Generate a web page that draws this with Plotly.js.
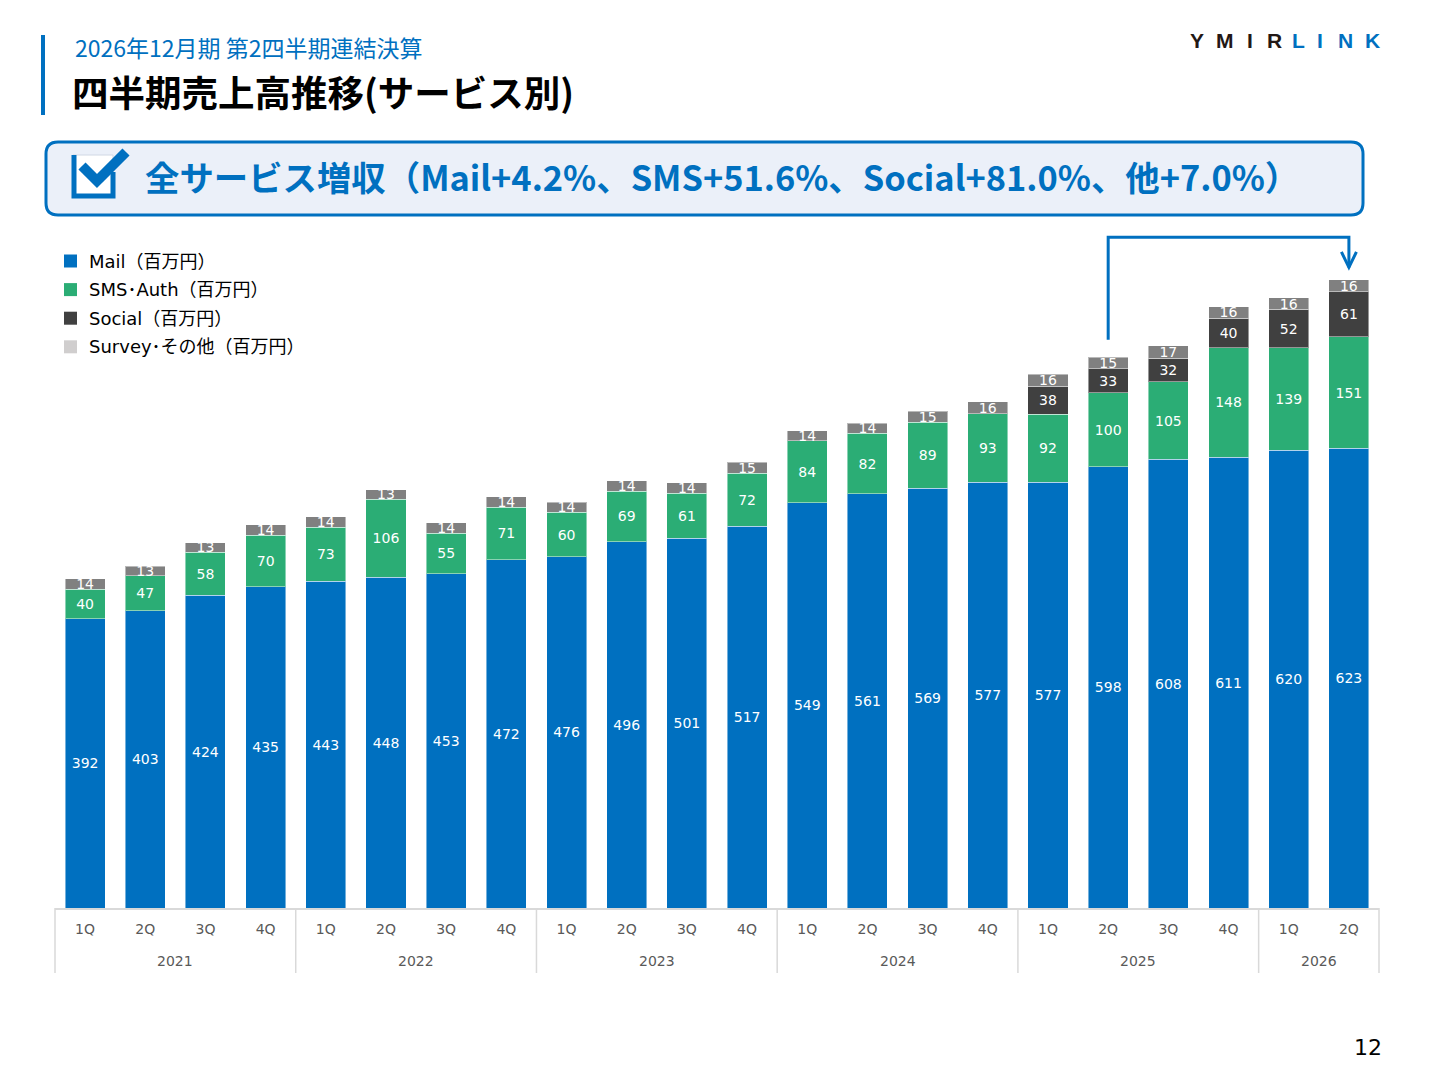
<!DOCTYPE html>
<html>
<head>
<meta charset="utf-8">
<script src="https://cdn.plot.ly/plotly-3.0.1.min.js"></script>
<style>
  html, body { margin: 0; padding: 0; background: #ffffff; }
  #chart { width: 1440px; height: 1080px; }
</style>
</head>
<body>
<div id="chart"></div>
<script>
// ---- data ----
const years    = ["2021","2021","2021","2021","2022","2022","2022","2022","2023","2023","2023","2023",
                  "2024","2024","2024","2024","2025","2025","2025","2025","2026","2026"];
const quarters = ["1Q","2Q","3Q","4Q","1Q","2Q","3Q","4Q","1Q","2Q","3Q","4Q",
                  "1Q","2Q","3Q","4Q","1Q","2Q","3Q","4Q","1Q","2Q"];
const mail   = [392,403,424,435,443,448,453,472,476,496,501,517,549,561,569,577,577,598,608,611,620,623];
const sms    = [40,47,58,70,73,106,55,71,60,69,61,72,84,82,89,93,92,100,105,148,139,151];
const social = [null,null,null,null,null,null,null,null,null,null,null,null,
                null,null,null,null,38,33,32,40,52,61];
const survey = [14,13,13,14,14,13,14,14,14,14,14,15,14,14,15,16,16,15,17,16,16,16];

const seriesNames = ["Mail（百万円）","SMS･Auth（百万円）","Social（百万円）","Survey･その他（百万円）"];
const barColors    = ["#0070C0","#2BAD75","#404040","#808080"];
const legendColors = ["#0070C0","#2BAD75","#404040","#D0CECE"];

const subtitleText = "2026年12月期 第2四半期連結決算";
const titleText    = "四半期売上高推移(サービス別)";
const bannerText   = "全サービス増収（Mail+4.2%、SMS+51.6%、Social+81.0%、他+7.0%）";
const logoLetters  = ["Y","M","I","R","L","I","N","K"];
const logoColors   = ["#231815","#231815","#231815","#231815","#0070C0","#0070C0","#0070C0","#0070C0"];
const pageNumber   = "12";

// ---- geometry helpers (plot area: x 55..1379, y 230..908 in page pixels) ----
const L = 55, R = 1379, T = 230, B = 908;
const W = R - L, H = B - T;
const px = x => (x - L) / W;
const py = y => (B - y) / H;
const P = (x, y) => px(x).toFixed(5) + "," + py(y).toFixed(5);

const latin = "DejaVu Sans, Noto Sans CJK JP, sans-serif";
const jp = "Noto Sans CJK JP, DejaVu Sans, sans-serif";

const n = quarters.length;
const keys = years.map((y, i) => y + "-" + quarters[i]);
const seriesVals = [mail, sms, social, survey];

const traces = seriesVals.map((vals, k) => ({
  type: "bar",
  name: seriesNames[k],
  x: keys,
  y: vals,
  marker: { color: barColors[k], line: { color: "rgba(255,255,255,0.45)", width: 1 } },
  text: vals.map(v => v == null ? "" : String(v)),
  texttemplate: "%{text}",
  textposition: "inside",
  insidetextanchor: "middle",
  textangle: 0,
  constraintext: "none",
  cliponaxis: false,
  insidetextfont: { family: latin, size: 14, color: "#ffffff" },
  hoverinfo: "skip",
  showlegend: false
}));

const yMax = H / 0.738;

const shapes = [];
const annotations = [];

// header bar
shapes.push({ type: "rect", xref: "paper", yref: "paper", x0: px(41), x1: px(45), y0: py(35), y1: py(115),
  fillcolor: "#0070C0", line: { width: 0 } });

annotations.push({ xref: "paper", yref: "paper", x: px(73), y: py(47), xanchor: "left", yanchor: "middle",
  text: subtitleText, showarrow: false, font: { family: jp, size: 23, color: "#0070C0" } });
annotations.push({ xref: "paper", yref: "paper", x: px(70), y: py(92), xanchor: "left", yanchor: "middle",
  text: "<b>" + titleText + "</b>", showarrow: false, font: { family: jp, size: 36.5, color: "#000000" } });

// logo
const logoX = [1197,1225,1250,1274,1298,1320,1345,1372];
logoLetters.forEach((c, i) => {
  annotations.push({ xref: "paper", yref: "paper", x: px(logoX[i]), y: py(41), xanchor: "center", yanchor: "middle",
    text: "<b>" + c + "</b>", showarrow: false, font: { family: "Liberation Sans, Arial, sans-serif", size: 21, color: logoColors[i] } });
});

// banner (rounded rectangle)
const bx0 = 46, bx1 = 1363, by0 = 142, by1 = 215, rr = 12;
const bannerPath = "M" + P(bx0 + rr, by0) + " L" + P(bx1 - rr, by0) + " Q" + P(bx1, by0) + " " + P(bx1, by0 + rr) +
  " L" + P(bx1, by1 - rr) + " Q" + P(bx1, by1) + " " + P(bx1 - rr, by1) +
  " L" + P(bx0 + rr, by1) + " Q" + P(bx0, by1) + " " + P(bx0, by1 - rr) +
  " L" + P(bx0, by0 + rr) + " Q" + P(bx0, by0) + " " + P(bx0 + rr, by0) + " Z";
shapes.push({ type: "path", xref: "paper", yref: "paper", path: bannerPath,
  fillcolor: "#EBF0F9", line: { color: "#0070C0", width: 3 } });

// check icon
shapes.push({ type: "rect", xref: "paper", yref: "paper", x0: px(73), x1: px(113), y0: py(196), y1: py(155),
  fillcolor: "#ffffff", line: { color: "#D0D8E4", width: 1 } });
shapes.push({ type: "path", xref: "paper", yref: "paper",
  path: "M" + P(74, 155) + " L" + P(74, 196) + " L" + P(113, 196) + " L" + P(113, 172),
  line: { color: "#0070C0", width: 5 } });
shapes.push({ type: "path", xref: "paper", yref: "paper",
  path: "M" + P(82, 166) + " L" + P(97, 181) + " L" + P(126, 152),
  line: { color: "#0070C0", width: 10 } });

annotations.push({ xref: "paper", yref: "paper", x: px(143), y: py(176), xanchor: "left", yanchor: "middle",
  text: "<b>" + bannerText + "</b>", showarrow: false, font: { family: jp, size: 34.4, color: "#0070C0" } });

// legend (custom, swatch colours differ from bars for Survey)
seriesNames.forEach((nm, k) => {
  const yc = 261 + k * 28.6;
  shapes.push({ type: "rect", xref: "paper", yref: "paper", x0: px(64), x1: px(77), y0: py(yc + 6.5), y1: py(yc - 6.5),
    fillcolor: legendColors[k], line: { width: 0 } });
  annotations.push({ xref: "paper", yref: "paper", x: px(87), y: py(yc), xanchor: "left", yanchor: "middle",
    text: nm, showarrow: false, font: { family: latin, size: 18, color: "#000000" } });
});

// year group labels and dividers
const yearGroups = [];
years.forEach((y, i) => {
  const g = yearGroups[yearGroups.length - 1];
  if (g && g.year === y) { g.end = i; } else { yearGroups.push({ year: y, start: i, end: i }); }
});
yearGroups.forEach(g => {
  annotations.push({ xref: "paper", yref: "paper", x: ((g.start + g.end) / 2 + 0.5) / n, y: py(961),
    xanchor: "center", yanchor: "middle", text: g.year, showarrow: false,
    font: { family: latin, size: 14, color: "#595959" } });
  shapes.push({ type: "line", xref: "paper", yref: "paper", x0: g.start / n, x1: g.start / n, y0: py(908), y1: py(973),
    line: { color: "#D9D9D9", width: 1.5 } });
});
shapes.push({ type: "line", xref: "paper", yref: "paper", x0: 1, x1: 1, y0: py(908), y1: py(973),
  line: { color: "#D9D9D9", width: 1.5 } });

// arrow from 2Q 2025 to 2Q 2026
const iFrom = 17, iTo = 21;
const xFrom = (iFrom + 0.5) / n, xTo = (iTo + 0.5) / n;
const arrowPath = "M" + xFrom + "," + (770 / yMax) + " L" + xFrom + "," + (909 / yMax) +
  " L" + xTo + "," + (909 / yMax) + " L" + xTo + "," + (868 / yMax);
shapes.push({ type: "path", xref: "paper", yref: "paper", path: arrowPath, line: { color: "#0070C0", width: 3 } });
const dx = 7.5 / W;
shapes.push({ type: "path", xref: "paper", yref: "paper",
  path: "M" + (xTo - dx) + "," + (889 / yMax) + " L" + xTo + "," + (868 / yMax) + " L" + (xTo + dx) + "," + (889 / yMax),
  line: { color: "#0070C0", width: 3 } });

// page number
annotations.push({ xref: "paper", yref: "paper", x: px(1384), y: py(1047), xanchor: "right", yanchor: "middle",
  text: pageNumber, showarrow: false, font: { family: latin, size: 22, color: "#000000" } });

const layout = {
  width: 1440, height: 1080,
  margin: { l: L, r: 1440 - R, t: T, b: 1080 - B, pad: 0 },
  paper_bgcolor: "#ffffff", plot_bgcolor: "#ffffff",
  barmode: "stack",
  bargap: 0.335,
  showlegend: false,
  font: { family: latin, size: 14, color: "#595959" },
  xaxis: {
    type: "category",
    range: [-0.5, n - 0.5],
    tickmode: "array", tickvals: keys, ticktext: quarters,
    showline: true, linecolor: "#D9D9D9", linewidth: 1.5,
    ticks: "", ticklabelstandoff: 8, showgrid: false, zeroline: false,
    tickfont: { family: latin, size: 14, color: "#595959" },
    fixedrange: true
  },
  yaxis: { visible: false, range: [0, yMax], fixedrange: true },
  shapes: shapes,
  annotations: annotations
};

Plotly.newPlot("chart", traces, layout, { displayModeBar: false, staticPlot: true });
</script>
</body>
</html>
